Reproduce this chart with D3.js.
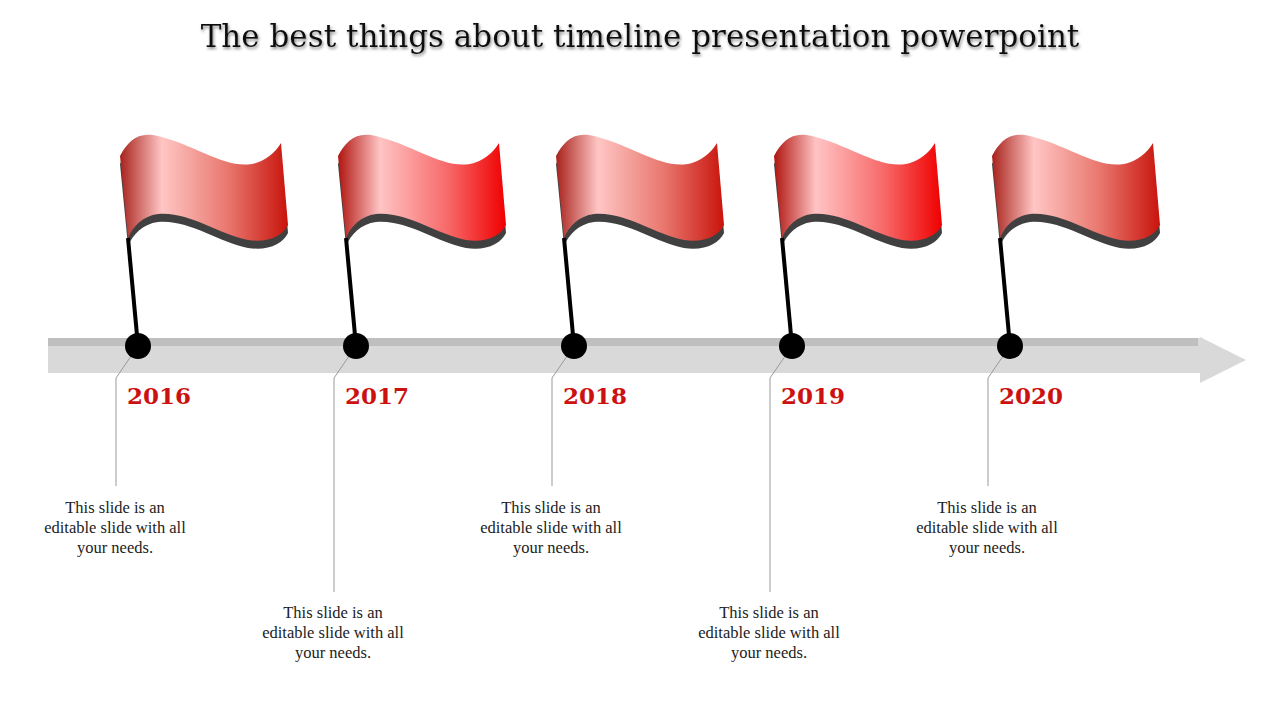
<!DOCTYPE html>
<html><head><meta charset="utf-8">
<script src="https://cdn.jsdelivr.net/npm/d3@7"></script>
<style>body{margin:0;background:#fff}</style></head>
<body><svg id="c" width="1280" height="720"></svg>
<script>
const years = ["2016","2017","2018","2019","2020"];
const descriptions = ["This slide is an|editable slide with all|your needs.","This slide is an|editable slide with all|your needs.","This slide is an|editable slide with all|your needs.","This slide is an|editable slide with all|your needs.","This slide is an|editable slide with all|your needs."];
const textLevels = [0,1,0,1,0];
const flagStyles = ["dark","bright","dark","bright","dark"];

const svg = d3.select("#c");
const x = d3.scalePoint().domain(years).range([138,1010]);
const defs = svg.append("defs");
const grads = {dark:[["0%","#a8221c"],["25%","#ffc6c4"],["65%","#e8756c"],["100%","#c8140c"]],
               bright:[["0%","#b01510"],["25%","#ffc4c4"],["65%","#f76a6a"],["100%","#f00000"]]};
Object.entries(grads).forEach(([k,stops])=>{
  const g=defs.append("linearGradient").attr("id","g"+k);
  stops.forEach(s=>g.append("stop").attr("offset",s[0]).attr("stop-color",s[1]));
});
const f=defs.append("filter").attr("id","ts");
f.append("feDropShadow").attr("dx",1).attr("dy",2).attr("stdDeviation",1.5).attr("flood-color","#888");

svg.append("text").attr("x",640).attr("y",47).attr("text-anchor","middle")
  .attr("font-family","DejaVu Serif, serif").attr("font-size",31).attr("fill","#111")
  .attr("filter","url(#ts)").text("The best things about timeline presentation powerpoint");

svg.append("rect").attr("x",48).attr("y",338).attr("width",1155).attr("height",35).attr("fill","#d9d9d9");
svg.append("rect").attr("x",48).attr("y",338).attr("width",1150).attr("height",8).attr("fill","#bfbfbf");
svg.append("path").attr("d","M1200,337 L1246,360 L1200,383 Z").attr("fill","#d9d9d9");

const flagD="M-18,-190 C-10,-205 0,-215 20,-210 C60,-200 90,-175 118,-183 C133,-188 140,-198 143,-203 L150,-121 C145,-110 130,-103 110,-106 C80,-112 50,-135 20,-132 C5,-130 -5,-120 -10,-108 Z";

years.forEach((y,i)=>{
  const cx=x(y), g=svg.append("g").attr("transform",`translate(${cx},346)`);
  const lvl=textLevels[i];
  const bottom = lvl? 592:486;
  g.append("path").attr("d",`M0,0 L-22,32 L-22,${bottom-346}`).attr("fill","none").attr("stroke","#999").attr("stroke-width",1);
  g.append("path").attr("d",flagD).attr("transform","translate(0,8)").attr("fill","#404040");
  g.append("path").attr("d",flagD).attr("fill",`url(#g${flagStyles[i]})`);
  g.append("line").attr("x1",-10).attr("y1",-108).attr("x2",0).attr("y2",0).attr("stroke","#000").attr("stroke-width",4);
  g.append("circle").attr("r",13).attr("fill","#000");
  svg.append("text").attr("x",cx-11).attr("y",404).attr("font-family","DejaVu Serif, serif")
    .attr("font-weight","bold").attr("font-size",23).attr("fill","#cc1111").text(y);
  const t=svg.append("text").attr("text-anchor","middle").attr("font-family","Liberation Serif, DejaVu Serif, serif")
    .attr("font-size",16.5).attr("fill","#222");
  descriptions[i].split("|").forEach((l,j)=>t.append("tspan").attr("x",cx-23).attr("y",(lvl?618:513)+j*20).text(l));
});
</script></body></html>
